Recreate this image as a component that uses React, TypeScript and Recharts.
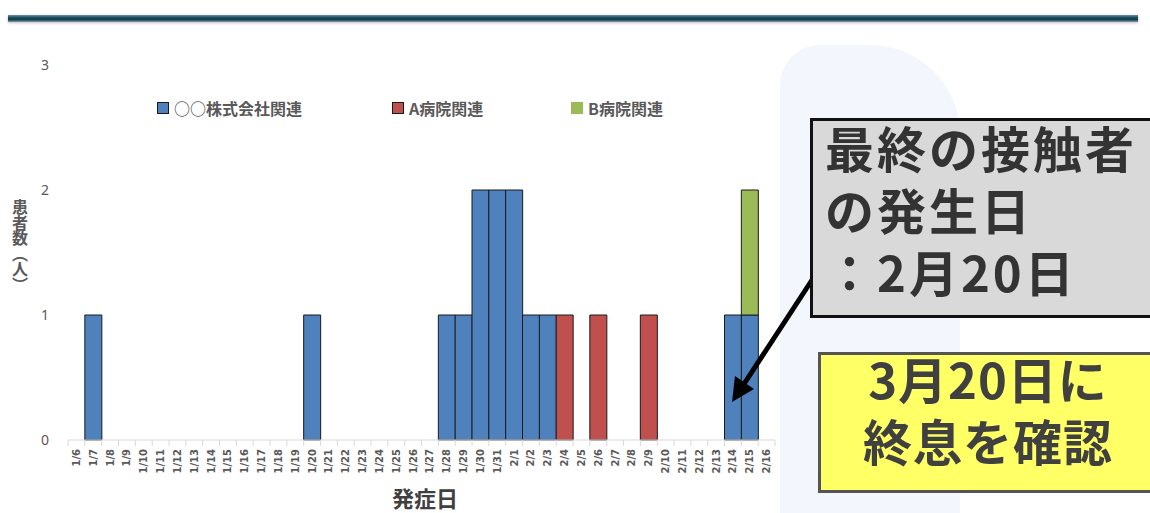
import { BarChart, Bar, XAxis, YAxis, CartesianGrid } from 'recharts'

const days = [
  '1/6', '1/7', '1/8', '1/9', '1/10', '1/11', '1/12', '1/13', '1/14', '1/15', '1/16', '1/17', '1/18', '1/19',
  '1/20', '1/21', '1/22', '1/23', '1/24', '1/25', '1/26', '1/27', '1/28', '1/29', '1/30', '1/31',
  '2/1', '2/2', '2/3', '2/4', '2/5', '2/6', '2/7', '2/8', '2/9', '2/10', '2/11', '2/12', '2/13', '2/14', '2/15', '2/16',
]
// ○○株式会社関連
const companyCases = [0, 1, 0, 0, 0, 0, 0, 0, 0, 0, 0, 0, 0, 0, 1, 0, 0, 0, 0, 0, 0, 0, 1, 1, 2, 2, 2, 1, 1, 0, 0, 0, 0, 0, 0, 0, 0, 0, 0, 1, 1, 0]
// A病院関連
const hospitalACases = [0, 0, 0, 0, 0, 0, 0, 0, 0, 0, 0, 0, 0, 0, 0, 0, 0, 0, 0, 0, 0, 0, 0, 0, 0, 0, 0, 0, 0, 1, 0, 1, 0, 0, 1, 0, 0, 0, 0, 0, 0, 0]
// B病院関連
const hospitalBCases = [0, 0, 0, 0, 0, 0, 0, 0, 0, 0, 0, 0, 0, 0, 0, 0, 0, 0, 0, 0, 0, 0, 0, 0, 0, 0, 0, 0, 0, 0, 0, 0, 0, 0, 0, 0, 0, 0, 0, 0, 1, 0]
const yTicks = [0, 1, 2, 3]

const data = days.map((d, i) => ({
  day: d,
  company: companyCases[i],
  hospA: hospitalACases[i],
  hospB: hospitalBCases[i],
}))

const font = '"Noto Sans CJK JP", "Noto Sans", sans-serif'
const BAND = 705 / 42

const XTick = ({ x, y, payload, index }: any) => (
  <g>
    <line x1={x - BAND / 2} y1={440} x2={x - BAND / 2} y2={446} stroke="#d9d9d9" />
    {index === days.length - 1 && <line x1={x + BAND / 2} y1={440} x2={x + BAND / 2} y2={446} stroke="#d9d9d9" />}
    <text
      transform={`translate(${x + 3.5},${y + 1}) rotate(-90)`}
      textAnchor="end"
      fontSize={10}
      fontWeight={700}
      fill="#595959"
      fontFamily="'DejaVu Sans', sans-serif"
    >
      {payload.value}
    </text>
  </g>
)

const YTick = ({ y, payload }: any) => (
  <text x={45} y={y + 5} textAnchor="middle" fontSize={14} fill="#595959" fontFamily="'Noto Sans', sans-serif">
    {payload.value}
  </text>
)

const legendItems = [
  { label: '○○株式会社関連', color: '#4f81bd', border: '#1a1a1a', left: 157 },
  { label: 'A病院関連', color: '#c0504d', border: '#1a1a1a', left: 392 },
  { label: 'B病院関連', color: '#9bbb59', border: '#9bbb59', left: 571 },
]

export default function App() {
  return (
    <div style={{ position: 'absolute', left: 0, top: 0, width: 1150, height: 513, overflow: 'hidden', background: '#fff' }}>
      {/* faint background shape */}
      <div style={{ position: 'absolute', left: 780, top: 45, width: 180, height: 480, borderRadius: '40px 90px 0 0', background: '#f3f7fd' }} />
      <div
        style={{
          position: 'absolute', left: 8, top: 15, width: 1130, height: 7,
          background: 'linear-gradient(#6a9aa8, #1d4d60 35%, #143b4c 65%, #7aa3b0)',
          boxShadow: '0 1px 3px rgba(0,0,0,0.25)',
        }}
      />
      <div style={{ position: 'absolute', left: 0, top: 0 }}>
        <BarChart
          width={1150}
          height={513}
          data={data}
          margin={{ top: 65, right: 375, left: 0, bottom: 0 }}
          barCategoryGap={0}
          style={{ background: 'transparent' }}
        >
          <rect x={68} y={45} width={707} height={468} fill="#fff" />
          <CartesianGrid horizontal vertical={false} stroke="#d9d9d9" />
          <XAxis
            dataKey="day"
            height={73}
            interval={0}
            tick={<XTick />}
            tickLine={false}
            axisLine={{ stroke: '#d9d9d9' }}
          />
          <YAxis width={68} domain={[0, 3]} ticks={yTicks} tick={<YTick />} axisLine={false} tickLine={false} />
          <Bar dataKey="company" stackId="a" fill="#4f81bd" stroke="#1a1a1a" strokeWidth={1} isAnimationActive={false} />
          <Bar dataKey="hospA" stackId="a" fill="#c0504d" stroke="#1a1a1a" strokeWidth={1} isAnimationActive={false} />
          <Bar dataKey="hospB" stackId="a" fill="#9bbb59" stroke="#1a1a1a" strokeWidth={1} isAnimationActive={false} />
        </BarChart>
      </div>
      {legendItems.map((it) => (
        <div
          key={it.label}
          style={{ position: 'absolute', left: it.left, top: 96, display: 'flex', alignItems: 'center', gap: 5, fontFamily: font, fontWeight: 700, fontSize: 16, color: '#595959', lineHeight: '24px' }}
        >
          <span style={{ width: 10, height: 10, background: it.color, border: `1px solid ${it.border}`, display: 'inline-block' }} />
          {it.label}
        </div>
      ))}
      <div
        style={{
          position: 'absolute', left: 9, top: 199, writingMode: 'vertical-rl', textOrientation: 'upright',
          fontFamily: '"Noto Sans CJK JP"', fontWeight: 700, fontSize: 16, lineHeight: '22px', color: '#595959', letterSpacing: -0.5,
        }}
      >
        患者数（人）
      </div>
      <div style={{ position: 'absolute', left: 392, top: 482, fontFamily: font, fontWeight: 700, fontSize: 22, color: '#404040', lineHeight: '30px' }}>
        発症日
      </div>
      <svg width={1150} height={513} style={{ position: 'absolute', left: 0, top: 0, pointerEvents: 'none' }}>
        <line x1={812} y1={280} x2={744} y2={384} stroke="#000" strokeWidth={5} />
        <polygon points="732,402 735,376 754,389" fill="#000" />
      </svg>
      <div
        style={{
          position: 'absolute', left: 810, top: 118, width: 345, height: 200, boxSizing: 'border-box',
          background: '#d9d9d9', border: '3px solid #111', padding: '0 0 0 12px',
          fontFamily: font, fontWeight: 700, fontSize: 49, lineHeight: '62px', color: '#333', letterSpacing: 3,
        }}
      >
        <div style={{ marginTop: -5 }}>最終の接触者</div>
        <div>の発生日</div>
        <div>：2月20日</div>
      </div>
      <div
        style={{
          position: 'absolute', left: 818, top: 352, width: 340, height: 141, boxSizing: 'border-box',
          background: '#ffff66', border: '3px solid #555', padding: 0, textAlign: 'center',
          fontFamily: font, fontWeight: 700, fontSize: 49, lineHeight: '62px', color: '#404040', letterSpacing: 1,
        }}
      >
        <div style={{ marginTop: -8 }}>3月20日に</div>
        <div>終息を確認</div>
      </div>
    </div>
  )
}
